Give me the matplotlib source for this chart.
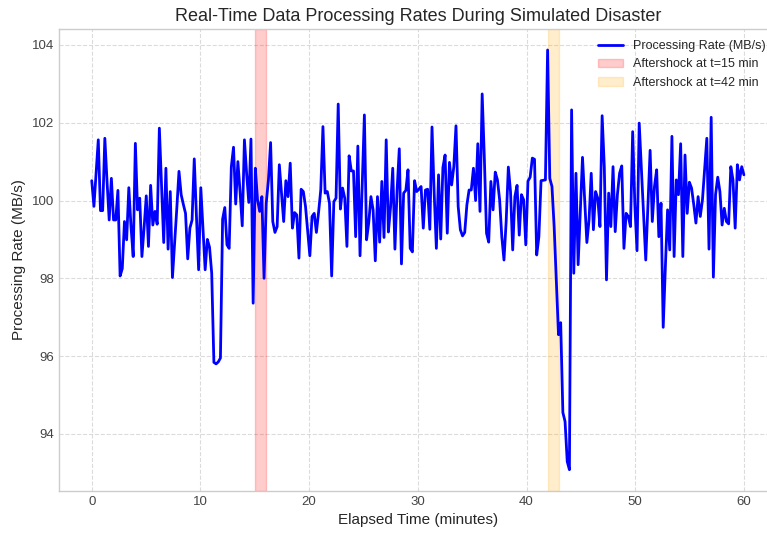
import matplotlib
matplotlib.use('Agg')
import matplotlib.pyplot as plt
import numpy as np

# Processing rate samples (MB/s), 300 samples over 60 minutes
rate_0_10 = [100.51, 99.85, 100.7, 101.56, 99.74, 99.74, 101.6, 100.5, 99.5, 100.57,
             99.5, 99.5, 100.26, 98.06, 98.25, 99.46, 98.99, 100.33, 99.33, 98.56,
             101.47, 99.76, 100.06, 98.56, 99.3, 100.12, 98.82, 100.39, 99.37, 99.72,
             99.39, 101.86, 100.4, 98.92, 100.83, 98.75, 100.23, 98.02, 98.9, 99.8,
             100.75, 100.15, 99.9, 99.67, 98.5, 99.29, 99.5, 101.07, 99.6, 98.22]
rate_10_20 = [100.33, 99.3, 98.22, 99.0, 98.8, 98.13, 95.84, 95.8, 95.85, 95.95,
              99.52, 99.82, 98.86, 98.77, 100.87, 101.37, 99.91, 101.0, 100.23, 99.35,
              101.56, 100.7, 99.95, 101.58, 97.36, 100.83, 100.02, 99.72, 100.1, 98.0,
              99.93, 100.53, 101.49, 99.46, 99.18, 99.33, 100.92, 100.19, 99.46, 100.51,
              100.1, 100.96, 99.29, 99.69, 99.63, 98.52, 100.29, 100.23, 99.85, 99.2,
              98.58]
rate_20_30 = [99.59, 99.67, 99.18, 99.7, 100.27, 101.9, 100.19, 100.23, 99.93, 98.06,
              99.97, 100.06, 102.48, 99.78, 100.32, 100.06, 98.82, 101.15, 100.76, 100.76,
              99.07, 101.4, 98.58, 100.4, 102.2, 98.99, 99.43, 100.1, 99.76, 98.45,
              100.1, 98.93, 100.49, 99.05, 101.56, 99.19, 99.83, 100.83, 98.75, 100.27,
              101.33, 98.37, 100.19, 100.26, 100.79, 98.77, 98.68, 100.51, 100.23, 100.29]
rate_30_40 = [100.36, 99.29, 100.27, 100.29, 99.26, 101.89, 100.19, 98.77, 100.66, 99.01,
              100.85, 101.17, 99.16, 100.98, 100.4, 100.87, 101.92, 99.85, 99.25, 99.09,
              99.18, 99.89, 100.27, 100.27, 100.83, 100.0, 101.46, 99.72, 102.74, 101.09,
              99.16, 98.93, 100.49, 99.76, 100.73, 100.53, 100.02, 99.07, 98.47, 99.46,
              100.86, 100.23, 98.73, 100.1, 100.39, 99.11, 100.15, 100.02, 98.86, 100.5]
rate_40_50 = [100.6, 101.09, 101.06, 98.6, 99.07, 100.51, 100.52, 100.53, 103.87, 100.57,
              100.36, 99.33, 97.96, 96.55, 96.86, 94.55, 94.32, 93.29, 93.08, 102.33,
              98.13, 100.7, 98.35, 99.7, 101.11, 100.0, 98.92, 99.5, 100.7, 99.25,
              100.23, 100.06, 99.33, 102.18, 100.86, 97.96, 100.19, 99.33, 100.87, 99.2,
              100.15, 100.7, 100.89, 98.77, 99.67, 99.59, 99.33, 101.77, 99.89, 98.71,
              101.99]
rate_50_60 = [100.8, 99.6, 98.47, 99.9, 101.29, 99.46, 100.36, 100.79, 99.07, 99.93,
              96.74, 98.3, 99.76, 98.73, 101.65, 98.56, 100.53, 100.15, 101.46, 98.56,
              101.17, 99.67, 100.47, 100.32, 99.9, 99.42, 100.1, 99.59, 100.02, 100.83,
              101.6, 98.75, 102.14, 98.03, 100.15, 100.6, 100.23, 99.37, 99.8, 99.46,
              99.4, 100.87, 100.53, 99.29, 100.92, 100.53, 100.87, 100.66]

rate = np.array(rate_0_10 + rate_10_20 + rate_20_30 + rate_30_40 + rate_40_50 + rate_50_60)
time_min = np.linspace(0, 60, len(rate))

# Aftershock windows (start, end) in minutes
aftershocks = [(15, 16, 'red', 'Aftershock at t=15 min'),
               (42, 43, 'orange', 'Aftershock at t=42 min')]

plt.style.use('seaborn-v0_8-whitegrid')
plt.rcParams['font.family'] = ['Liberation Sans', 'DejaVu Sans']

fig = plt.figure(figsize=(7.67, 5.33), dpi=100)
# axes run past the right edge of the picture, as in the reference crop
ax = fig.add_axes([0.0771, 0.0794, 0.9353, 0.8662])

ax.plot(time_min, rate, color='blue', linewidth=2, label='Processing Rate (MB/s)')
for start, end, color, label in aftershocks:
    ax.axvspan(start, end, color=color, alpha=0.2, label=label)

ax.set_title('Real-Time Data Processing Rates During Simulated Disaster', fontsize=13)
ax.set_xlabel('Elapsed Time (minutes)', fontsize=11)
ax.set_ylabel('Processing Rate (MB/s)', fontsize=11)
ax.tick_params(labelsize=9.5, colors='#444444')
ax.grid(True, linestyle='--', alpha=0.7)
ax.legend(loc='upper right', fontsize=9)

fig.savefig('out.png', dpi=100)
